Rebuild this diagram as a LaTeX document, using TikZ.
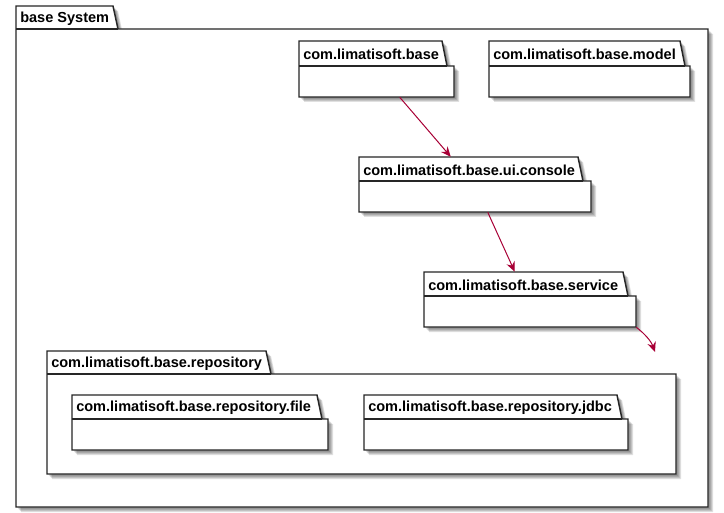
\documentclass[tikz,border=0pt]{standalone}
\usepackage{fontspec}
\setmainfont{Liberation Sans}
\usetikzlibrary{arrows.meta,calc,fit}
\definecolor{depc}{HTML}{A80036}
\definecolor{linec}{HTML}{262626}
\tikzset{
  pkgline/.style={draw=linec, line width=1.1pt, fill=white, line join=miter},
  shadowlayer/.style={fill=black, fill opacity=0.12, draw=none},
  pkglabel/.style={anchor=west, inner sep=0pt, font=\bfseries\fontsize{10.9pt}{12pt}\selectfont},
  bodyfit/.style={inner sep=0pt, draw=none},
  dep/.style={draw=depc, line width=0.75pt, -{Stealth[length=7.5pt,width=6.5pt,inset=2.5pt]}}
}
% #1 name, #2 x1, #3 tab top, #4 body top, #5 x2, #6 y2, #7 tab right, #8 text
\newcommand{\umlpkg}[8]{%
  \foreach \o in {2,3,4,5}{%
    \path[shadowlayer] (#2+\o,#3+\o) -- (#7-5+\o,#3+\o) -- (#7+\o,#4+\o) -- (#5+\o,#4+\o) -- (#5+\o,#6+\o) -- (#2+\o,#6+\o) -- cycle;
  }
  \path[pkgline] (#2,#3) -- (#7-5,#3) -- (#7,#4) -- (#5,#4) -- (#5,#6) -- (#2,#6) -- cycle;
  \draw[draw=linec, line width=1.1pt] (#2,#4) -- (#7,#4);
  \node[pkglabel] (#1-label) at (#2+4,{(#3+#4)/2+1.2}) {#8};
  \node[bodyfit, fit={(#2,#4) (#5,#6)}] (#1) {};
}
\begin{document}
\begin{tikzpicture}[x=0.75pt,y=-0.75pt]
\useasboundingbox (0,0) rectangle (724,513);
\fill[white] (0,0) rectangle (724,513);
\umlpkg{sys}{16}{6}{29}{708}{507}{118}{base System}
\umlpkg{base}{299}{41}{66}{454}{97}{447}{com.limatisoft.base}
\umlpkg{model}{489}{41}{66}{690}{97}{685}{com.limatisoft.base.model}
\umlpkg{ui}{359}{157}{181}{591}{212}{583}{com.limatisoft.base.ui.console}
\umlpkg{service}{424}{272}{296}{636}{327}{628}{com.limatisoft.base.service}
\umlpkg{repo}{47}{351}{374}{676}{474}{271}{com.limatisoft.base.repository}
\umlpkg{file}{72}{395}{419}{328}{450}{322}{com.limatisoft.base.repository.file}
\umlpkg{jdbc}{364}{395}{419}{628}{450}{622}{com.limatisoft.base.repository.jdbc}
\coordinate (repoarrow) at (655,352);
\draw[dep] ($(base.south west)+(101,0)$) -- ($(ui.north west)+(92,-24)$);
\draw[dep] ($(ui.south west)+(129,0)$) -- ($(service.north west)+(91,-24)$);
\draw[dep] (service.south east) .. controls (645,334) and (651,341) .. (repoarrow);
\end{tikzpicture}
\end{document}
